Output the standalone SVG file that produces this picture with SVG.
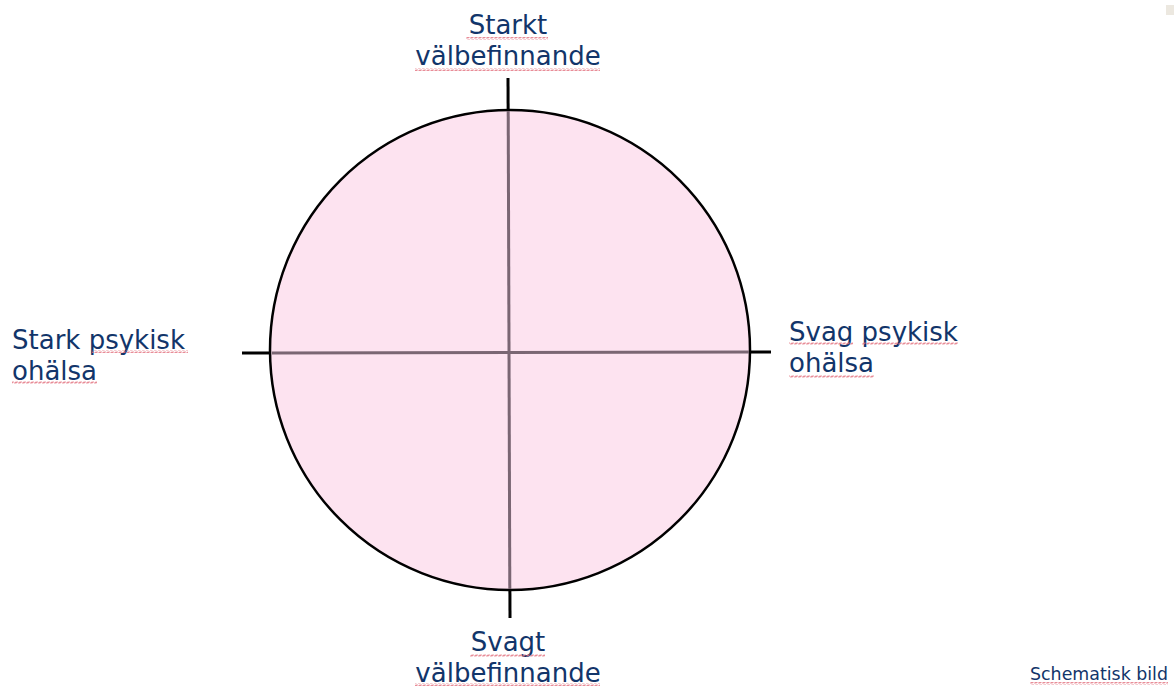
<svg xmlns="http://www.w3.org/2000/svg" width="1176" height="686" viewBox="0 0 1176 686">
<style>
.lbl{font-family:"DejaVu Sans",Verdana,sans-serif;font-size:26px;fill:#12356a}
.small{font-family:"DejaVu Sans",Verdana,sans-serif;font-size:17.4px;fill:#12356a}
.sq{fill:url(#squig)}
</style>
<defs>
<pattern id="squig" width="4" height="3" patternUnits="userSpaceOnUse">
<path d="M0 2.5 L1 0.5 L3 2.5 L4 0.5" fill="none" stroke="#e2707e" stroke-width="0.8"/>
</pattern>
</defs>
<rect width="1176" height="686" fill="#ffffff"/>
<rect x="1166" y="5" width="8" height="10" fill="#ece8e0"/>
<g id="axes-outer">
<line x1="508" y1="78" x2="510" y2="618" stroke="#000" stroke-width="3"/>
<line x1="242" y1="353" x2="771" y2="352" stroke="#000" stroke-width="3"/>
</g>
<g id="circle">
<circle cx="510" cy="350" r="240" fill="#fde3f0" stroke="#000" stroke-width="2.5"/>
</g>
<g id="connectors">
<line x1="508.2" y1="111" x2="509.8" y2="589" stroke="#7a6673" stroke-width="3"/>
<line x1="272" y1="353" x2="749" y2="352" stroke="#7a6673" stroke-width="3"/>
</g>
<g id="top">
<text class="lbl" x="508" y="34" text-anchor="middle">Starkt</text>
<text class="lbl" x="508" y="65" text-anchor="middle">välbefinnande</text>
<rect class="sq" x="466" y="37" width="82" height="3"/>
<rect class="sq" x="415" y="68" width="185" height="3"/>
</g>
<g id="left">
<text class="lbl" x="12" y="349">Stark psykisk</text>
<text class="lbl" x="12" y="380">ohälsa</text>
<rect class="sq" x="92" y="350" width="96" height="3"/>
<rect class="sq" x="12" y="381" width="85" height="3"/>
</g>
<g id="right">
<text class="lbl" x="789" y="341">Svag psykisk</text>
<text class="lbl" x="789" y="372">ohälsa</text>
<rect class="sq" x="789" y="342" width="64" height="3"/>
<rect class="sq" x="862" y="342" width="96" height="3"/>
<rect class="sq" x="789" y="375" width="85" height="3"/>
</g>
<g id="bottom">
<text class="lbl" x="508" y="651" text-anchor="middle">Svagt</text>
<text class="lbl" x="508" y="682" text-anchor="middle">välbefinnande</text>
<rect class="sq" x="470" y="654" width="75" height="3"/>
<rect class="sq" x="415" y="683" width="185" height="3"/>
</g>
<g id="note">
<text class="small" x="1168" y="680" text-anchor="end">Schematisk bild</text>
<rect class="sq" x="1030" y="682" width="138" height="3"/>
</g>
</svg>
